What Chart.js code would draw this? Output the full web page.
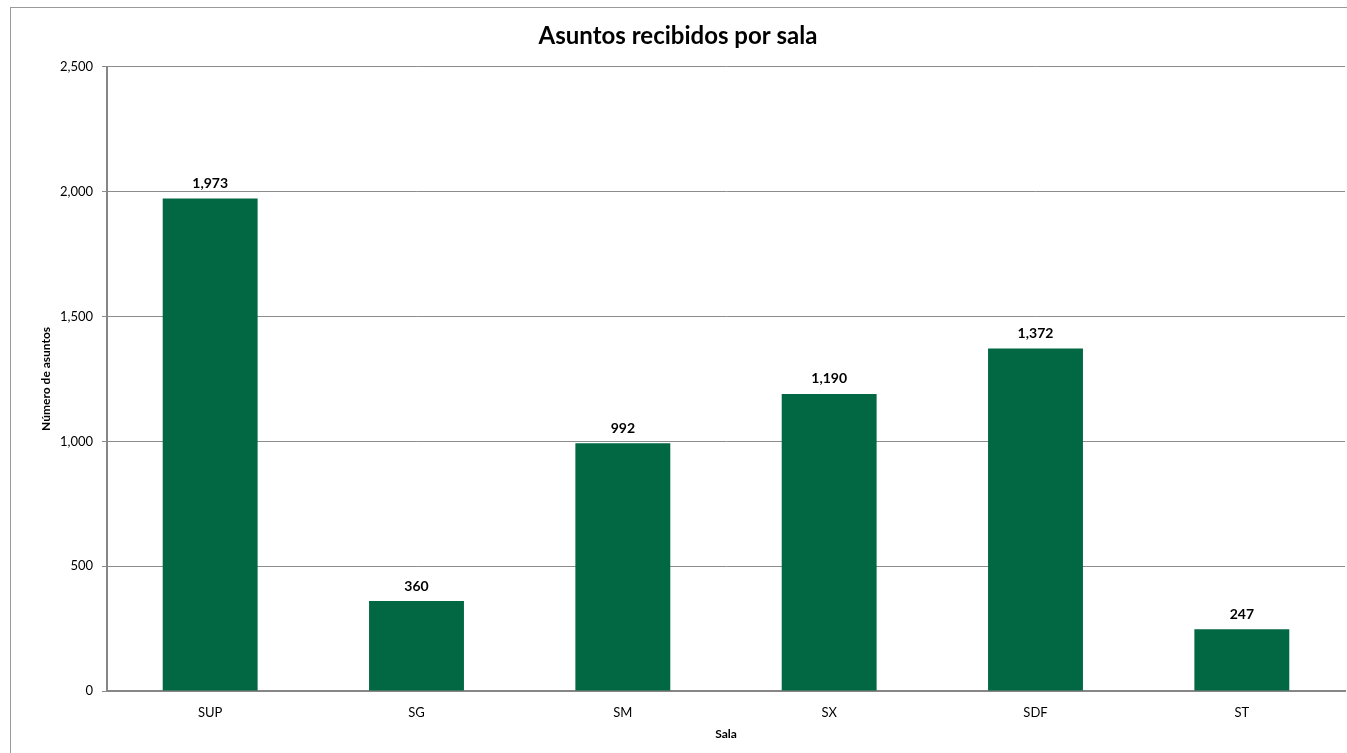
<!DOCTYPE html>
<html>
<head>
<meta charset="utf-8">
<script src="https://cdn.jsdelivr.net/npm/chart.js@4"></script>
<style>
  html, body { margin: 0; padding: 0; background: #fff; overflow: hidden; }
  #frame { position: absolute; left: 10px; top: 7px; width: 1400px; height: 800px;
           border-left: 1px solid #9a9a9a; border-top: 1px solid #9a9a9a; }
  #frame canvas { position: absolute; left: 0; top: 0; }
</style>
</head>
<body>
<div id="frame"><canvas id="chart" width="1336" height="745"></canvas></div>
<script>
const salas = ['SUP', 'SG', 'SM', 'SX', 'SDF', 'ST'];
const asuntos = [1973, 360, 992, 1190, 1372, 247];
const yTicks = [0, 500, 1000, 1500, 2000, 2500];

const FONT = 'Lato, "Liberation Sans", sans-serif';
const fmt = v => v.toLocaleString('en-US');

// value labels above each bar
const barLabels = {
  id: 'barLabels',
  afterDatasetsDraw(chart) {
    const ctx = chart.ctx;
    const meta = chart.getDatasetMeta(0);
    ctx.save();
    ctx.font = 'bold 14px ' + FONT;
    ctx.fillStyle = '#000';
    ctx.textAlign = 'center';
    ctx.textBaseline = 'bottom';
    meta.data.forEach((bar, i) => {
      ctx.fillText(fmt(asuntos[i]), bar.x, bar.y - 8);
    });
    ctx.restore();
  }
};

new Chart(document.getElementById('chart').getContext('2d'), {
  type: 'bar',
  data: {
    labels: salas,
    datasets: [{
      label: 'Asuntos',
      data: asuntos,
      backgroundColor: '#026843',
      borderWidth: 0,
      categoryPercentage: 1,
      barPercentage: 0.46
    }]
  },
  options: {
    responsive: false,
    animation: false,
    layout: { padding: { left: 0, right: 2, top: 0, bottom: 0 } },
    plugins: {
      legend: { display: false },
      tooltip: { enabled: false },
      title: {
        display: true,
        text: 'Asuntos recibidos por sala',
        color: '#000',
        font: { family: FONT, size: 24, weight: 'bold' },
        padding: { top: 14, bottom: 16 }
      }
    },
    scales: {
      x: {
        grid: { display: false },
        border: { display: true, color: '#868686', width: 2 },
        ticks: { color: '#000', font: { family: FONT, size: 13 }, padding: 6 },
        title: {
          display: true, text: 'Sala', color: '#000',
          font: { family: FONT, size: 12, weight: 'bold' },
          padding: { top: 0, bottom: 12 }
        },
        afterFit(scale) { scale.height = 62; }
      },
      y: {
        min: 0, max: 2500,
        afterBuildTicks(scale) { scale.ticks = yTicks.map(v => ({ value: v })); },
        grid: { color: '#8c8c8c', lineWidth: 1, tickLength: 5, drawTicks: true },
        border: { display: true, color: '#868686', width: 2 },
        ticks: { color: '#000', font: { family: FONT, size: 13 }, padding: 9, callback: v => fmt(v) },
        title: {
          display: true, text: 'Número de asuntos', color: '#000',
          font: { family: FONT, size: 12, weight: 'bold' },
          padding: { top: 28, bottom: 0 }
        },
        afterFit(scale) { scale.width = 96; }
      }
    }
  },
  plugins: [barLabels]
});
</script>
</body>
</html>
